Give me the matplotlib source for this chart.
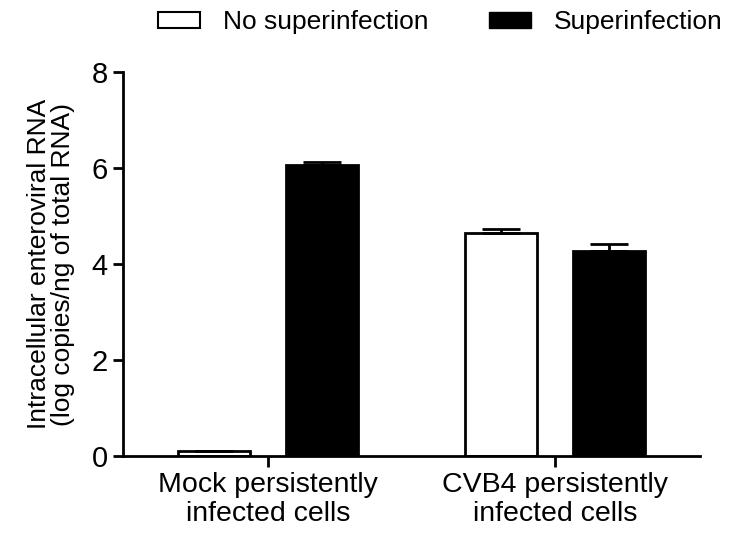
import matplotlib.pyplot as plt
import matplotlib.patches as mpatches
import numpy as np

plt.rcParams["font.family"] = ["Liberation Sans", "DejaVu Sans"]

# data
groups = ["Mock persistently\ninfected cells", "CVB4 persistently\ninfected cells"]
series = ["No superinfection", "Superinfection"]
no_super = [0.1, 4.65]
no_super_err = [0.0, 0.09]
super_inf = [6.07, 4.27]
super_err = [0.05, 0.15]

fig = plt.figure(figsize=(7.4, 5.35), dpi=100)
ax = fig.add_axes([0.166, 0.148, 0.78, 0.717])

x = np.arange(len(groups))
w = 0.251
off = 0.188

ax.bar(x - off, no_super, w, color="white", edgecolor="black", linewidth=2,
       yerr=[np.zeros(2), no_super_err], capsize=13.5,
       error_kw=dict(elinewidth=2, capthick=2, ecolor="black"))
ax.bar(x + off, super_inf, w, color="black", edgecolor="black", linewidth=2,
       yerr=[np.zeros(2), super_err], capsize=13.5,
       error_kw=dict(elinewidth=2, capthick=2, ecolor="black"))

ax.set_xlim(-0.505, 1.505)
ax.set_ylim(0, 8)
ax.set_yticks([0, 2, 4, 6, 8])
ax.set_xticks(x)
ax.set_xticklabels(groups, fontsize=20.5, linespacing=1.15)
ax.tick_params(axis="y", labelsize=21, width=2, length=7, pad=4)
ax.tick_params(axis="x", width=2, length=8, pad=4)

for s in ["top", "right"]:
    ax.spines[s].set_visible(False)
for s in ["left", "bottom"]:
    ax.spines[s].set_linewidth(2)

ax.set_ylabel("Intracellular enteroviral RNA\n(log copies/ng of total RNA)",
              fontsize=19, labelpad=12, linespacing=1.0)

handles = [mpatches.Patch(facecolor="white", edgecolor="black", linewidth=1.5),
           mpatches.Patch(facecolor="black", edgecolor="black")]
fig.legend(handles, series, loc="upper center", bbox_to_anchor=(0.595, 1.025),
           ncol=2, frameon=False, fontsize=19, handlelength=1.59, handleheight=0.5,
           columnspacing=2.27, handletextpad=0.87)

fig.savefig("out.png", dpi=100)
